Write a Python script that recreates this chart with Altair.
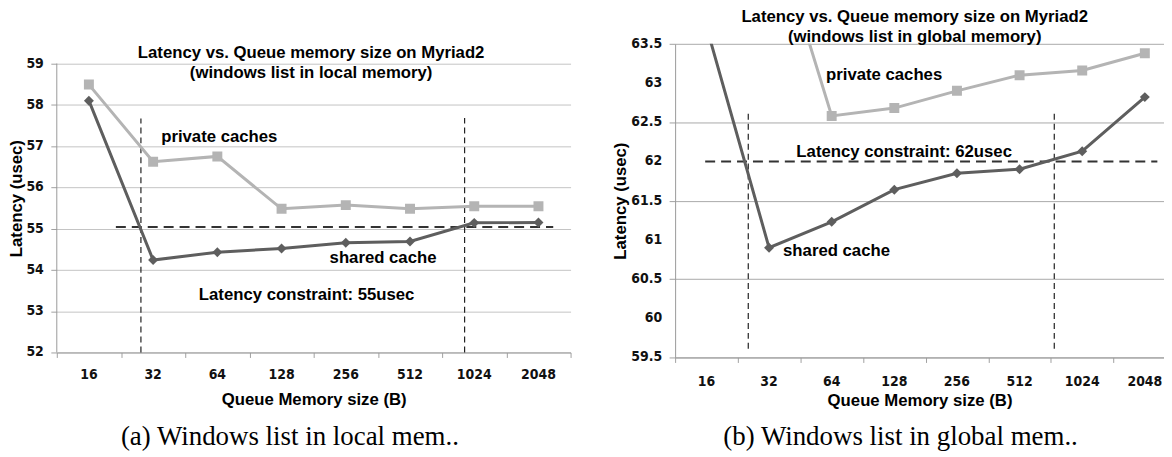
import altair as alt
import pandas as pd

# ---------------- data ----------------
sizes = [16, 32, 64, 128, 256, 512, 1024, 2048]
series_names = ["shared cache", "private caches"]

local_shared = [58.10, 54.24, 54.43, 54.52, 54.66, 54.69, 55.14, 55.15]
local_private = [58.49, 56.62, 56.75, 55.48, 55.57, 55.48, 55.54, 55.54]

global_shared = [63.72, 60.90, 61.23, 61.64, 61.85, 61.90, 62.13, 62.82]
global_private = [65.80, 65.18, 62.58, 62.68, 62.90, 63.10, 63.16, 63.38]

local_yticks = [52, 53, 54, 55, 56, 57, 58, 59]
local_ylabels = ["52", "53", "54", "55", "56", "57", "58", "59"]
global_yticks = [59.5, 60, 60.5, 61, 61.5, 62, 62.5, 63, 63.5]
global_ylabels = ["59.5", "60", "60.5", "61", "61.5", "62", "62.5", "63", "63.5"]

local_constraint = 55.04
global_constraint = 62.0

SANS = "Liberation Sans"
NARROW = "Liberation Sans Narrow, DejaVu Sans Condensed, Liberation Sans"
SERIF = "Liberation Serif"
TXT = 16.8

colors = ["#5e5e5e", "#b4b4b4"]
shapes = ["diamond", "square"]


def series_frame(shared, private):
    rows = []
    for name, vals in [("private caches", private), ("shared cache", shared)]:
        for i, (s, v) in enumerate(zip(sizes, vals)):
            rows.append({"idx": i, "size": s, "latency": v, "series": name})
    return pd.DataFrame(rows)


def panel(shared, private, ydom, yticks, ylabels, width, height, xdom,
          grid_color, hrule, vrules, texts, caption, titles, yaxis_line,
          xlabel_dy, xtitle_pad, ytitle_pad):
    df = series_frame(shared, private)
    bounds = [v / 2 for v in range(-1, 16, 2)]
    bounds = [v for v in bounds if xdom[0] <= v <= xdom[1]]
    xscale = alt.Scale(domain=xdom, nice=False, zero=False)
    yscale = alt.Scale(domain=ydom, nice=False, zero=False)
    xaxis = alt.Axis(
        values=bounds, labels=False,
        tickSize=5, tickColor="#a0a0a0", domainColor="#999999", grid=False,
        title="Queue Memory size (B)", titleFont=SANS, titleFontSize=TXT,
        titleFontWeight="bold", titleColor="#000000", titlePadding=xtitle_pad,
    )
    yaxis = alt.Axis(
        values=yticks, labels=False, grid=True, gridColor=grid_color,
        domain=yaxis_line, domainColor="#999999",
        tickSize=6, tickColor="#a0a0a0",
        title="Latency (usec)", titleFont=SANS, titleFontSize=TXT,
        titleFontWeight="bold", titleColor="#000000", titlePadding=ytitle_pad,
    )
    color = alt.Color("series:N", scale=alt.Scale(domain=series_names, range=colors), legend=None)
    shape = alt.Shape("series:N", scale=alt.Scale(domain=series_names, range=shapes), legend=None)

    base = alt.Chart(df)
    lines = base.mark_line(strokeWidth=3, clip=True).encode(
        x=alt.X("idx:Q", scale=xscale, axis=xaxis),
        y=alt.Y("latency:Q", scale=yscale, axis=yaxis),
        color=color, detail="series:N",
    )
    points = base.mark_point(filled=True, size=100, opacity=1, clip=True).encode(
        x="idx:Q", y="latency:Q", color=color, shape=shape,
    )

    layers = []
    if not yaxis_line:
        axis_df = pd.DataFrame({"x": [xdom[0]], "y": [yticks[0]], "y2": [yticks[-1]]})
        layers.append(alt.Chart(axis_df).mark_rule(color="#999999", strokeWidth=1).encode(
            x="x:Q", y="y:Q", y2="y2:Q"))

    # tick labels (category names under the bands, values left of the axis)
    xl_df = pd.DataFrame({"idx": list(range(len(sizes))), "y": [ydom[0]] * len(sizes),
                          "label": [str(s) for s in sizes]})
    xl = alt.Chart(xl_df).mark_text(font=NARROW, fontWeight="bold", fontSize=14, color="#111111",
                                    baseline="middle", align="center", dy=xlabel_dy).encode(
        x="idx:Q", y="y:Q", text="label:N")
    yl_df = pd.DataFrame({"x": [xdom[0]] * len(yticks), "v": yticks, "label": ylabels})
    yl = alt.Chart(yl_df).mark_text(font=NARROW, fontWeight="bold", fontSize=14, color="#111111",
                                    baseline="middle", align="right", dx=-13).encode(
        x="x:Q", y="v:Q", text="label:N")

    vdf = pd.DataFrame(vrules)
    vr = alt.Chart(vdf).mark_rule(color="#222222", strokeWidth=1.2, strokeDash=[6, 4]).encode(
        x="x:Q", y="y:Q", y2="y2:Q")
    hdf = pd.DataFrame([hrule])
    hr = alt.Chart(hdf).mark_rule(color="#333333", strokeWidth=2, strokeDash=[10, 6]).encode(
        x="x:Q", x2="x2:Q", y="y:Q")

    tdf = pd.DataFrame(texts + titles)
    tx = alt.Chart(tdf).mark_text(font=SANS, fontWeight="bold", fontSize=TXT, color="#000000",
                                  baseline="middle", align="center").encode(
        x="x:Q", y="y:Q", text="text:N")
    cdf = pd.DataFrame([caption])
    cap = alt.Chart(cdf).mark_text(font=SERIF, fontSize=27, color="#000000",
                                   baseline="middle", align="center").encode(
        x="x:Q", y="y:Q", text="text:N")

    return alt.layer(*layers, vr, hr, lines, points, xl, yl, tx, cap).properties(
        width=width, height=height)


left = panel(
    local_shared, local_private,
    ydom=[52, 59.478], yticks=local_yticks, ylabels=local_ylabels,
    width=516, height=310, xdom=[-0.5, 7.5], grid_color="#c4c4c4",
    hrule={"x": 0.42, "x2": 7.23, "y": local_constraint},
    vrules=[{"x": 0.81, "y": 52, "y2": 57.67}, {"x": 5.85, "y": 52, "y2": 57.68}],
    texts=[
        {"x": 2.03, "y": 57.22, "text": "private caches"},
        {"x": 4.58, "y": 54.30, "text": "shared cache"},
        {"x": 3.39, "y": 53.38, "text": "Latency constraint: 55usec"},
    ],
    titles=[
        {"x": 3.46, "y": 59.25, "text": "Latency vs. Queue memory size on Myriad2"},
        {"x": 3.46, "y": 58.77, "text": "(windows list in local memory)"},
    ],
    caption={"x": 3.13, "y": 49.96, "text": "(a) Windows list in local mem.."},
    yaxis_line=False, xlabel_dy=23, xtitle_pad=34, ytitle_pad=25,
)

right = panel(
    global_shared, global_private,
    ydom=[59.5, 63.5], yticks=global_yticks, ylabels=global_ylabels,
    width=491, height=315, xdom=[-0.5, 7.306], grid_color="#a9a9a9",
    hrule={"x": -0.02, "x2": 7.2, "y": global_constraint},
    vrules=[{"x": 0.668, "y": 59.61, "y2": 62.62}, {"x": 5.554, "y": 59.61, "y2": 62.62}],
    texts=[
        {"x": 2.837, "y": 63.10, "text": "private caches"},
        {"x": 3.157, "y": 62.12, "text": "Latency constraint: 62usec"},
        {"x": 2.077, "y": 60.86, "text": "shared cache"},
    ],
    titles=[
        {"x": 3.325, "y": 63.837, "text": "Latency vs. Queue memory size on Myriad2"},
        {"x": 3.325, "y": 63.583, "text": "(windows list in global memory)"},
    ],
    caption={"x": 3.10, "y": 58.487, "text": "(b) Windows list in global mem.."},
    yaxis_line=True, xlabel_dy=25, xtitle_pad=30, ytitle_pad=39,
)

chart = alt.hconcat(left, right, spacing=41).properties(
    padding={"left": 0, "top": 0, "right": 0, "bottom": 0},
    background="#ffffff",
).configure_view(strokeWidth=0)

chart.save("out.html", embed_options={"renderer": "svg", "actions": False})
